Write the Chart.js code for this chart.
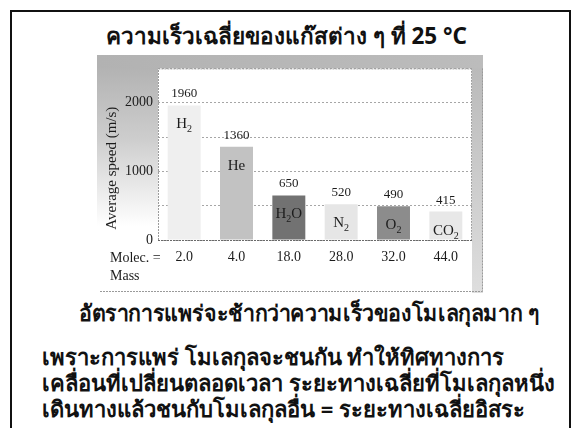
<!DOCTYPE html>
<html>
<head>
<meta charset="utf-8">
<script src="https://cdn.jsdelivr.net/npm/chart.js@4.4.1/dist/chart.umd.min.js"></script>
<style>
  html, body { margin: 0; padding: 0; width: 573px; height: 428px; overflow: hidden; background: #fff; }
  #frame { position: absolute; left: 10px; top: 10px; width: 557px; height: 440px; border: 2px solid #111; }
  .thai { position: absolute; white-space: nowrap; font-weight: bold; color: #111;
          font-family: "Noto Sans", "DejaVu Sans", "Liberation Sans", sans-serif; line-height: 1; }
  #title { left: 0; width: 573px; text-align: center; top: 25px; font-size: 22.5px; }
  #l1 { left: 79px; top: 301px; font-size: 22px; transform: scaleX(0.97); transform-origin: 0 0; }
  #l2 { left: 42px; top: 345px; font-size: 22px; }
  #l3 { left: 42px; top: 371px; font-size: 22px; }
  #l4 { left: 42px; top: 397px; font-size: 22px; }
  #panel { position: absolute; left: 97px; top: 55px; width: 386px; height: 238px; }
</style>
</head>
<body>
<div id="frame"></div>
<div id="title" class="thai">ความเร็วเฉลี่ยของแก๊สต่าง ๆ ที่ 25 °C</div>
<div id="panel"><canvas id="chart" width="386" height="238"></canvas></div>
<div id="l1" class="thai">อัตราการแพร่จะช้ากว่าความเร็วของโมเลกุลมาก ๆ</div>
<div id="l2" class="thai">เพราะการแพร่ โมเลกุลจะชนกัน ทำให้ทิศทางการ</div>
<div id="l3" class="thai">เคลื่อนที่เปลี่ยนตลอดเวลา ระยะทางเฉลี่ยที่โมเลกุลหนึ่ง</div>
<div id="l4" class="thai">เดินทางแล้วชนกับโมเลกุลอื่น = ระยะทางเฉลี่ยอิสระ</div>

<script>
// Gases, their molar masses (x labels) and mean molecular speeds at 25 °C in m/s
const gases = ['H2', 'He', 'H2O', 'N2', 'O2', 'CO2'];
const molarMasses = ['2.0', '4.0', '18.0', '28.0', '32.0', '44.0'];
const avgSpeeds = [1960, 1360, 650, 520, 490, 415];
const labeledSpeedTicks = [0, 1000, 2000];

const barFills = ['#efefef', '#c2c2c2', '#727272', '#e6e6e6', '#8c8c8c', '#e8e8e8'];
const serif = '"Liberation Serif", "Times New Roman", serif';

// Draws a chemical formula with its digits as subscripts, centred on cx
function drawFormula(ctx, text, cx, baseline) {
  const parts = text.match(/[A-Za-z]+|\d+/g);
  const mainFont = '15px ' + serif, subFont = '10px ' + serif;
  let total = 0;
  const widths = parts.map(p => {
    ctx.font = /\d/.test(p) ? subFont : mainFont;
    const w = ctx.measureText(p).width;
    total += w;
    return w;
  });
  let x = cx - total / 2;
  ctx.textAlign = 'left';
  ctx.textBaseline = 'alphabetic';
  parts.forEach((p, i) => {
    const sub = /\d/.test(p);
    ctx.font = sub ? subFont : mainFont;
    ctx.fillText(p, x, baseline + (sub ? 4 : 0));
    x += widths[i];
  });
}

// Grey photo-style panel behind the plot
const panelBackdrop = {
  id: 'panelBackdrop',
  beforeDraw(chart) {
    const { ctx, width, height, chartArea: a } = chart;
    ctx.save();
    ctx.fillStyle = '#ffffff';
    ctx.fillRect(0, 0, width, height);

    let g = ctx.createLinearGradient(0, 0, 0, height);
    g.addColorStop(0, '#aeaeae');
    g.addColorStop(0.35, '#cdcdcd');
    g.addColorStop(0.72, '#ffffff');
    ctx.fillStyle = g;
    ctx.fillRect(0, 0, a.left, height);

    g = ctx.createLinearGradient(0, 0, 0, height);
    g.addColorStop(0, '#b8b8b8');
    g.addColorStop(1, '#dedede');
    ctx.fillStyle = g;
    ctx.fillRect(a.right, 0, width - a.right, height);

    g = ctx.createLinearGradient(0, 0, width, 0);
    g.addColorStop(0, '#b2b2b2');
    g.addColorStop(1, '#bcbcbc');
    ctx.fillStyle = g;
    ctx.fillRect(0, 0, width, a.top);

    ctx.fillStyle = '#ffffff';
    ctx.fillRect(a.left, a.top, a.right - a.left, a.bottom - a.top);

    // outer edge of the panel
    ctx.strokeStyle = '#9a9a9a';
    ctx.lineWidth = 1;
    ctx.setLineDash([2, 1]);
    ctx.beginPath();
    ctx.moveTo(3, height - 1.5);
    ctx.lineTo(width - 0.5, height - 1.5);
    ctx.moveTo(width - 0.5, a.top);
    ctx.lineTo(width - 0.5, height - 1.5);
    ctx.stroke();
    ctx.restore();
  },
  beforeDatasetsDraw(chart) {
    const { ctx, chartArea: a } = chart;
    ctx.save();
    ctx.lineWidth = 1;
    ctx.setLineDash([2, 1]);
    ctx.strokeStyle = '#9c9c9c';
    ctx.beginPath();
    ctx.moveTo(a.left + 0.5, a.bottom);
    ctx.lineTo(a.left + 0.5, a.top + 0.5);
    ctx.lineTo(a.right - 0.5, a.top + 0.5);
    ctx.lineTo(a.right - 0.5, a.bottom);
    ctx.stroke();
    ctx.strokeStyle = '#6a6a6a';
    ctx.beginPath();
    ctx.moveTo(a.left, a.bottom + 0.5);
    ctx.lineTo(a.right, a.bottom + 0.5);
    ctx.stroke();
    ctx.restore();
  }
};

// Speed values above the bars, formulas inside them, axis captions
const barText = {
  id: 'barText',
  afterDatasetsDraw(chart) {
    const { ctx, chartArea: a } = chart;
    const meta = chart.getDatasetMeta(0);
    ctx.save();
    ctx.fillStyle = '#1c1c1c';
    meta.data.forEach((bar, i) => {
      ctx.font = '13px ' + serif;
      ctx.textAlign = 'center';
      ctx.textBaseline = 'alphabetic';
      ctx.fillText(String(avgSpeeds[i]), bar.x, bar.y - 8);
      drawFormula(ctx, gases[i], bar.x, bar.y + 23);
    });

    ctx.font = '14px ' + serif;
    ctx.textAlign = 'left';
    ctx.fillText('Molec. =', a.left - 48, a.bottom + 22);
    ctx.fillText('Mass', a.left - 48, a.bottom + 40);

    ctx.translate(a.left - 46, (a.top + a.bottom) / 2 + 14);
    ctx.rotate(-Math.PI / 2);
    ctx.textAlign = 'center';
    ctx.textBaseline = 'middle';
    ctx.font = '15px ' + serif;
    ctx.fillText('Average speed (m/s)', 0, 0);
    ctx.restore();
  }
};

new Chart(document.getElementById('chart'), {
  type: 'bar',
  data: {
    labels: molarMasses,
    datasets: [{
      data: avgSpeeds,
      backgroundColor: barFills,
      borderWidth: 0,
      barPercentage: 0.63,
      categoryPercentage: 1
    }]
  },
  options: {
    responsive: false,
    animation: false,
    events: [],
    layout: { padding: { top: 6, right: 11, left: 0, bottom: 0 } },
    plugins: { legend: { display: false }, tooltip: { enabled: false } },
    scales: {
      x: {
        grid: { display: false, drawTicks: false },
        border: { display: false },
        ticks: { color: '#1c1c1c', font: { family: serif, size: 14 }, padding: 9, maxRotation: 0 },
        afterFit(scale) { scale.height = 53; }
      },
      y: {
        min: 0,
        max: 2500,
        grid: { color: '#a6a6a6', lineWidth: 1, drawTicks: false },
        border: { display: false, dash: [2, 2] },
        ticks: {
          stepSize: 500,
          padding: 5,
          color: '#1c1c1c',
          font: { family: serif, size: 14 },
          callback: v => labeledSpeedTicks.includes(v) ? String(v) : ''
        },
        afterFit(scale) { scale.width = 61; }
      }
    }
  },
  plugins: [panelBackdrop, barText]
});
</script>
</body>
</html>
